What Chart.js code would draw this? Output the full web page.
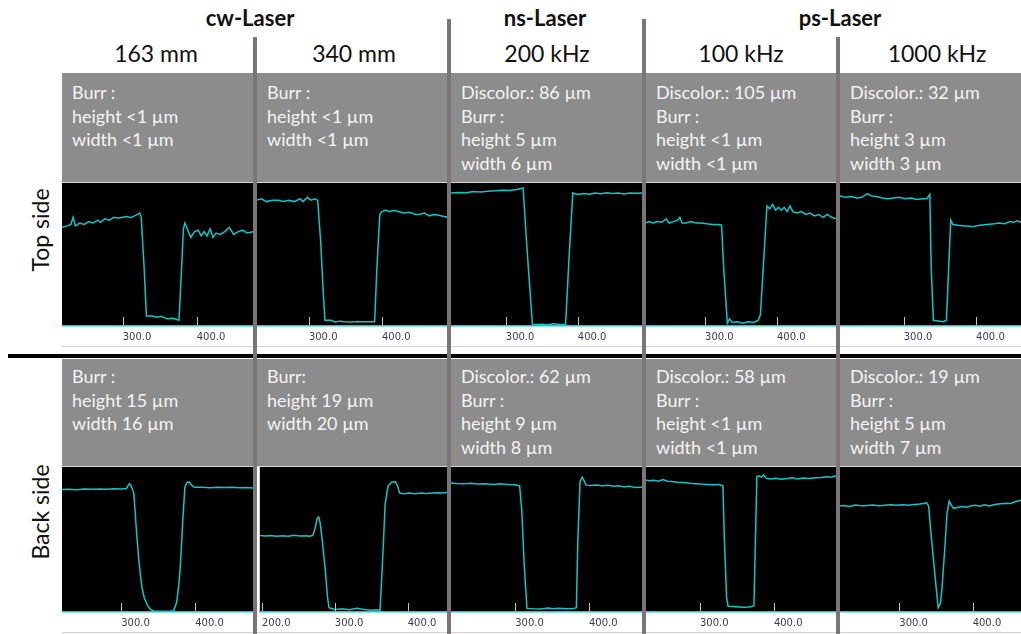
<!DOCTYPE html>
<html>
<head>
<meta charset="utf-8">
<script src="https://cdn.jsdelivr.net/npm/chart.js@4"></script>
<style>
  body { margin: 0; background: #fff; }
  #fig { position: relative; width: 1021px; height: 634px; overflow: hidden; font-family: Lato, Carlito, sans-serif; }
  .abs { position: absolute; }
  .grp { font-weight: bold; font-size: 22px; color: #111; transform: translate(-50%, -50%); white-space: nowrap; }
  .sub { font-size: 23px; color: #111; transform: translate(-50%, -50%); white-space: nowrap; }
  .band { background: #8c8c8c; border-bottom: 1px solid #d6d6d6; }
  .note { font-size: 18px; line-height: 23.5px; color: #f4f4f4; white-space: nowrap; }
  .side { font-size: 23px; color: #111; transform: translate(-50%, -50%) rotate(-90deg); white-space: nowrap; }
  .sep { background: #7b7575; width: 4px; }
  .strip { border-bottom: 1px solid #d2d2d2; }
</style>
</head>
<body>
<div id="fig"></div>
<script>
// header labels
const groupLabels = ['cw-Laser', 'ns-Laser', 'ps-Laser'];
const columnLabels = ['163 mm', '340 mm', '200 kHz', '100 kHz', '1000 kHz'];
const sideLabels = ['Top side', 'Back side'];

// notes in the grey boxes
const topNotes = [
  ['Burr :', 'height <1 µm', 'width <1 µm'],
  ['Burr :', 'height <1 µm', 'width <1 µm'],
  ['Discolor.: 86 µm', 'Burr :', 'height 5 µm', 'width 6 µm'],
  ['Discolor.: 105 µm', 'Burr :', 'height <1 µm', 'width <1 µm'],
  ['Discolor.: 32 µm', 'Burr :', 'height 3 µm', 'width 3 µm']
];
const backNotes = [
  ['Burr :', 'height 15 µm', 'width 16 µm'],
  ['Burr:', 'height 19 µm', 'width 20 µm'],
  ['Discolor.: 62 µm', 'Burr :', 'height 9 µm', 'width 8 µm'],
  ['Discolor.: 58 µm', 'Burr :', 'height <1 µm', 'width <1 µm'],
  ['Discolor.: 19 µm', 'Burr :', 'height 5 µm', 'width 7 µm']
];

// x-window (µm) shown in each profile
const topRanges = [[218, 476], [229, 489], [224, 489], [218, 482], [212, 462]];
const backRanges = [[220, 478], [197, 454], [213, 472], [227, 484], [219, 466]];
const topTicks = [[300, 400], [300, 400], [300, 400], [300, 400], [300, 400]];
const backTicks = [[300, 400], [200, 300, 400], [300, 400], [300, 400], [300, 400]];

// profiles: [position µm, height in % of window]
const topCw163 = [[217,69],[225,70],[230,71],[233,76],[236,70],[242,72],[248,71],[254,73],[260,72],[266,74],[270,72.5],[276,75],[282,74],[288,76],[294,75.5],[300,76],[306,76.5],[311,75.8],[316,77],[320,78],[323,79],[325,76],[329,40],[332,7],[340,7],[346,6.2],[352,6.8],[360,5],[368,5.4],[376,4],[379,35],[382,68],[384,72],[388,67],[392,62],[397,66],[402,67],[406,63],[410,66],[414,63],[418,68],[422,62],[426,65],[432,64],[438,66],[444,69],[450,64],[456,66],[462,67],[468,65],[476,66]];
const topCw340 = [[228,88],[235,89],[242,87],[250,88],[258,88],[265,87],[272,88],[280,87],[288,89],[292,87],[298,90],[303,88],[308,89],[312,88],[316,60],[320,20],[322,4],[330,4],[336,2.8],[342,3.4],[350,3],[358,2.8],[366,3.2],[374,2.9],[382,3],[390,3],[393,40],[397,78],[400,80],[405,81],[410,80],[416,81],[422,80],[430,79],[438,79.5],[446,78],[452,78.2],[458,79],[465,77],[470,78],[476,77.6],[482,77],[490,76]];
const topNs200 = [[224,93],[235,93.4],[245,93.2],[255,94],[265,93.7],[275,94.2],[285,94.5],[295,95],[305,94.8],[315,95.5],[324,96.5],[330,50],[337,0.8],[350,1.2],[358,0.9],[366,1.5],[375,1],[383,1.1],[388,50],[393,93],[400,92],[408,92.6],[416,92.1],[424,93],[432,92.5],[440,93.2],[448,92.6],[456,93],[464,92.4],[472,93],[480,92.8],[489,93]];
const topPs100 = [[217,72],[222,73],[228,72],[234,73],[240,72.5],[246,75],[250,72],[256,73],[262,74],[265,76],[268,72],[274,72],[280,73],[288,72],[295,72],[302,71.5],[310,71],[318,71],[323,70.5],[326,40],[331,2],[334,5],[338,2.5],[345,3],[352,2],[360,3],[368,2.5],[374,4],[377,8],[382,50],[386,84],[390,82],[394,85],[398,81],[402,83],[406,81],[410,83],[414,80],[418,84],[422,80],[428,79],[434,80],[440,78],[446,79],[452,77],[458,78],[464,76],[470,78],[476,76],[482,75]];
const topPs1000 = [[211,91],[220,90],[228,90.5],[235,89.5],[242,90],[250,92.5],[255,91],[262,90.5],[270,89.5],[278,89],[286,89.5],[294,90],[302,89],[310,89.5],[318,88.5],[326,89],[332,89],[336,92],[338,40],[341,4],[348,3.5],[355,3],[359,4],[362,40],[365,74],[368,71],[375,70.5],[385,70],[395,69.5],[405,70.5],[415,71],[425,71.5],[432,72],[440,71.5],[446,73],[452,72.5],[457,73.5],[462,72.5]];

const backCw163 = [[220,84.5],[230,84.7],[240,84.3],[250,84.8],[260,84.6],[270,84.9],[280,84.7],[290,85],[300,84.8],[307,85.2],[309,87],[311,88.5],[313,87.5],[317,82],[320,60],[323,40],[326,25],[328,17],[331,10],[335,5],[339,2],[344,0.7],[355,0.5],[365,0.5],[371,0.8],[375,7],[378,20],[380,33],[383,62],[386,86],[389,89.5],[392,89.7],[395,87.5],[399,86],[410,86],[420,85.7],[430,86],[440,85.8],[450,86],[460,85.7],[470,85.9],[478,85.6]];
const backCw340 = [[197,52.7],[205,52.5],[212,52.8],[220,52.3],[228,52.6],[236,52.2],[244,53],[252,52.4],[260,52.6],[266,52.3],[270,53],[273,58],[276,65],[278,65.5],[280,61],[283,48],[287,28],[290,10],[292,3],[300,1.8],[310,2.2],[320,1.5],[330,2.5],[340,1.8],[350,1.2],[356,1.5],[362,1.3],[364,20],[366,40],[369,74],[373,87],[378,89.5],[383,90],[386,87],[389,82],[395,81.5],[402,82],[410,81.6],[418,82],[426,81.8],[434,82],[442,82.2],[448,82],[454,82.5]];
const backNs200 = [[212,89],[220,88.7],[230,88.5],[240,88.8],[250,88.3],[260,88.4],[270,88],[280,88.5],[290,88],[300,87.8],[306,87],[309,70],[312,35],[316,2.5],[325,2.2],[335,2],[345,2.8],[350,2.2],[360,2.5],[370,2.3],[380,2.5],[383,3],[385,50],[388,90],[391,93],[393,91],[396,87.5],[402,87.2],[410,87.5],[418,87],[426,87.4],[434,86.8],[440,87],[448,86.3],[455,86.8],[462,85.8],[472,86]];
const backPs100 = [[226,91],[232,90.5],[238,90.8],[244,90.2],[250,91.3],[256,90.2],[262,90],[270,89.5],[278,89.3],[286,88.8],[294,88.5],[302,88.2],[310,88],[318,87.8],[326,88],[331,87],[333,50],[336,10],[338,4],[345,3.8],[352,3.5],[360,3.2],[366,3.5],[370,3.8],[373,4.5],[375,50],[377,93.5],[380,94],[383,93],[386,94.5],[390,92],[396,91.8],[402,92.3],[410,91.6],[418,92],[425,92.5],[432,91.8],[440,92.4],[448,92],[456,92.6],[464,92.8],[472,93.3],[478,93],[484,94]];
const backPs1000 = [[217,73.3],[225,73.5],[232,72.8],[240,73.8],[248,73.2],[256,73.5],[264,73.8],[272,73.3],[280,73.7],[288,73.9],[296,73.6],[304,74],[312,73.7],[320,74.2],[328,74.5],[334,75],[337,75.5],[340,73],[343,55],[346,39],[350,18],[353,3],[356,6],[358,15],[362,44],[365,68],[368,76.5],[371,73.5],[374,71.5],[380,72.2],[386,72.8],[392,72.3],[398,73.2],[404,73.6],[410,73],[416,74],[422,73.2],[430,74.2],[438,74.6],[446,75],[452,74.8],[458,76],[466,77]];

const topProfiles = [topCw163, topCw340, topNs200, topPs100, topPs1000];
const backProfiles = [backCw163, backCw340, backNs200, backPs100, backPs1000];

const fig = document.getElementById('fig');
function put(cls, css, text) {
  const d = document.createElement('div');
  d.className = 'abs ' + cls;
  Object.assign(d.style, css);
  if (text !== undefined) d.textContent = text;
  fig.appendChild(d);
  return d;
}

// page layout
const colLeft = [62, 257, 451, 646, 840];
const colRight = [253, 447, 642, 836, 1021];
const rows = [
  { band: 73, plot: 183, h: 144, notes: topNotes, prof: topProfiles, ranges: topRanges, ticks: topTicks, pad: 8 },
  { band: 359, plot: 467, h: 146, notes: backNotes, prof: backProfiles, ranges: backRanges, ticks: backTicks, pad: 6 }
];

groupLabels.forEach((t, i) => put('grp', { left: [250, 545, 840][i] + 'px', top: '17px' }, t));
columnLabels.forEach((t, i) => put('sub', { left: [156, 354, 547, 741, 937][i] + 'px', top: '53px' }, t));

const black = '#000';
const bgPlugin = {
  id: 'bg',
  beforeDraw(chart) {
    const a = chart.chartArea, c = chart.ctx;
    c.save();
    c.fillStyle = black;
    c.fillRect(a.left, a.top, a.right - a.left, a.bottom - a.top);
    c.restore();
  },
  afterDatasetsDraw(chart) {
    const a = chart.chartArea, c = chart.ctx, sx = chart.scales.x;
    c.save();
    c.strokeStyle = '#c4c4c4';
    c.lineWidth = 1;
    sx.ticks.forEach(t => {
      const x = Math.round(sx.getPixelForValue(t.value)) + 0.5;
      c.beginPath();
      c.moveTo(x, a.bottom - 1);
      c.lineTo(x, a.bottom - 9);
      c.stroke();
    });
    c.restore();
  }
};

rows.forEach((r, ri) => {
  put('band', { left: '62px', top: r.band + 'px', width: (1021 - 62) + 'px', height: (r.plot - r.band - 1) + 'px' });
  for (let i = 0; i < 5; i++) {
    const w = colRight[i] - colLeft[i];
    const nd = put('note', { left: (colLeft[i] + 10) + 'px', top: (r.band + r.pad) + 'px' });
    nd.innerHTML = r.notes[i].join('<br>');
    put('strip', { left: colLeft[i] + 'px', top: r.plot + 'px', width: w + 'px', height: (r.h + 19) + 'px' });
    const cv = document.createElement('canvas');
    cv.width = w; cv.height = r.h + 21;
    cv.className = 'abs';
    cv.style.left = colLeft[i] + 'px';
    cv.style.top = r.plot + 'px';
    fig.appendChild(cv);
    const tks = r.ticks[i];
    new Chart(cv.getContext('2d'), {
      type: 'line',
      data: {
        datasets: [{
          data: r.prof[i].map(p => ({ x: p[0], y: p[1] })),
          borderColor: '#16c4c6',
          borderWidth: 1.5,
          pointRadius: 0,
          tension: 0,
          fill: false
        }]
      },
      options: {
        responsive: false,
        animation: false,
        layout: { padding: 0 },
        plugins: { legend: { display: false }, tooltip: { enabled: false } },
        scales: {
          x: {
            type: 'linear',
            min: r.ranges[i][0],
            max: r.ranges[i][1],
            afterBuildTicks: s => { s.ticks = tks.map(v => ({ value: v })); },
            ticks: {
              callback: v => Number(v).toFixed(1),
              align: 'start',
              padding: 5,
              maxRotation: 0,
              autoSkip: false,
              color: '#3c3c4e',
              font: { family: 'DejaVu Sans', size: 10 }
            },
            grid: { display: false, drawTicks: false },
            border: { display: true, color: '#1fc9cc', width: 1.5, dash: [1.5, 1] }
          },
          y: { display: false, min: 0, max: 100 }
        }
      },
      plugins: [bgPlugin]
    });
  }
});

// side labels, divider and column separators
put('side', { left: '40px', top: '230px' }, sideLabels[0]);
put('side', { left: '40px', top: '512px' }, sideLabels[1]);
put('', { left: '8px', top: '354px', width: '1013px', height: '4px', background: '#000' });
[[253, 37], [447, 19], [642, 19], [836, 37]].forEach(s => put('sep', { left: s[0] + 'px', top: s[1] + 'px', height: (634 - s[1]) + 'px' }));
</script>
</body>
</html>
